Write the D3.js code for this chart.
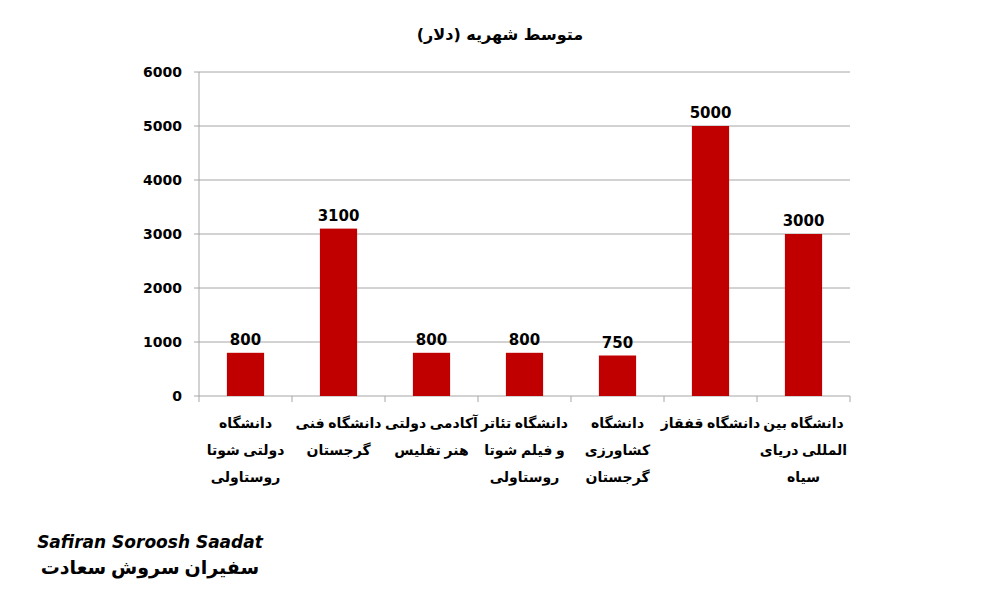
<!DOCTYPE html>
<html><head><meta charset="utf-8">
<script src="https://cdn.jsdelivr.net/npm/d3@7"></script>
<style>body{margin:0;background:#fff}</style></head>
<body><svg id="c" width="1000" height="600"></svg>
<script>
const categories = [
  ["دانشگاه","دولتی شوتا","روستاولی"],
  ["دانشگاه فنی","گرجستان"],
  ["آکادمی دولتی","هنر تفلیس"],
  ["دانشگاه تئاتر","و فیلم شوتا","روستاولی"],
  ["دانشگاه","کشاورزی","گرجستان"],
  ["دانشگاه قفقاز"],
  ["دانشگاه بین","المللی دریای","سیاه"]
];
const values = [800, 3100, 800, 800, 750, 5000, 3000];
const yTicks = [0,1000,2000,3000,4000,5000,6000];
const title = "متوسط شهریه (دلار)";

const svg = d3.select("#c");
const font = "'DejaVu Sans', sans-serif";
const fa = "'Noto Sans', 'DejaVu Sans', sans-serif";
const L=199, R=850, T=72, B=396;
const x = d3.scaleBand().domain(d3.range(values.length)).range([L,R]).paddingInner(0.6).paddingOuter(0.3);
const xb = d3.scaleBand().domain(d3.range(values.length)).range([L,R]);
const y = d3.scaleLinear().domain([0,6000]).range([B,T]);

svg.append("text").attr("x",500).attr("y",40).attr("text-anchor","middle")
  .attr("font-family",font).attr("font-weight","bold").attr("font-size",16).text(title);

svg.selectAll(".g").data(yTicks).join("line")
  .attr("x1",L).attr("x2",R).attr("y1",d=>y(d)).attr("y2",d=>y(d))
  .attr("stroke","#a6a6a6").attr("stroke-width",1);
svg.append("line").attr("x1",L).attr("x2",L).attr("y1",T).attr("y2",B).attr("stroke","#a6a6a6");
svg.selectAll(".xt").data(d3.range(values.length+1)).join("line")
  .attr("x1",i=>L+i*xb.bandwidth()).attr("x2",i=>L+i*xb.bandwidth())
  .attr("y1",B).attr("y2",B+6).attr("stroke","#a6a6a6");
svg.selectAll(".yl").data(yTicks).join("line")
  .attr("x1",L-5).attr("x2",L).attr("y1",d=>y(d)).attr("y2",d=>y(d)).attr("stroke","#a6a6a6");

svg.selectAll(".yt").data(yTicks).join("text")
  .attr("x",L-17).attr("y",d=>y(d)+5).attr("text-anchor","end")
  .attr("font-family",font).attr("font-weight","bold").attr("font-size",14).text(d=>d);

svg.selectAll(".bar").data(values).join("rect")
  .attr("x",(d,i)=>x(i)).attr("width",x.bandwidth())
  .attr("y",d=>y(d)).attr("height",d=>B-y(d)).attr("fill","#c00000");

svg.selectAll(".vl").data(values).join("text")
  .attr("x",(d,i)=>x(i)+x.bandwidth()/2).attr("y",d=>y(d)-8).attr("text-anchor","middle")
  .attr("font-family",font).attr("font-weight","bold").attr("font-size",15).text(d=>d);

categories.forEach((lines,i)=>{
  const t = svg.append("text").attr("text-anchor","middle").attr("direction","rtl")
    .attr("font-family",fa).attr("font-weight","bold").attr("font-size",14);
  lines.forEach((ln,j)=>t.append("tspan").attr("x",xb(i)+xb.bandwidth()/2).attr("y",428+j*27).text(ln));
});

svg.append("text").attr("x",150).attr("y",548).attr("text-anchor","middle")
  .attr("font-family",font).attr("font-weight","bold").attr("font-style","italic").attr("font-size",17).text("Safiran Soroosh Saadat");
svg.append("text").attr("x",150).attr("y",574).attr("text-anchor","middle")
  .attr("font-family",fa).attr("font-weight","bold").attr("font-size",19).text("سفیران سروش سعادت");
</script></body></html>
